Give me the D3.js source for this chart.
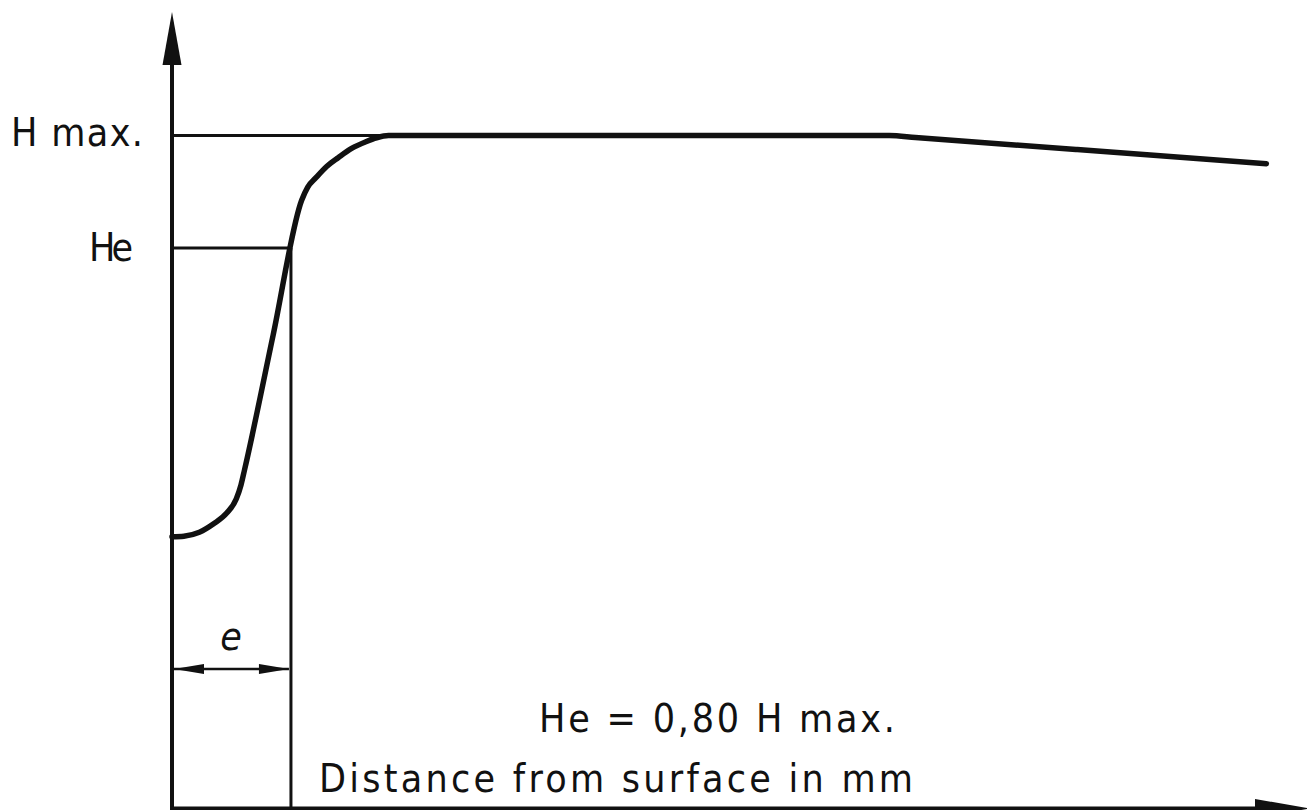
<html>
<head>
<script src="https://d3js.org/d3.v7.min.js"></script>
<style>
  body { margin: 0; background: #fff; }
  .lbl { font-family: "DejaVu Sans Condensed", "DejaVu Sans", sans-serif; font-stretch: condensed; font-size: 39px; fill: #111; }
</style>
</head>
<body>
<svg id="chart" width="1307" height="810"></svg>
<script>
// hardness profile (distance in arbitrary mm units, hardness in % of H max)
const distance = [0.00, 0.10, 0.23, 0.35, 0.46, 0.54, 0.58, 0.61, 0.85, 1.09, 1.14, 1.21, 1.30, 1.40, 1.51, 1.63, 1.72, 1.82, 6.03, 6.25, 7.61, 9.20];
const hardness = [28.7, 28.8, 29.5, 31.0, 32.9, 35.4, 37.9, 40.6, 64.5, 88.5, 90.8, 92.5, 94.5, 96.1, 97.7, 98.9, 99.6, 100, 100, 99.65, 97.5, 95.0];
const hMax = 100;
const he = 80;
const eDepth = 1.0;
const yLabels = ["H max.", "He"];
const yLabelValues = [hMax, he];
const noteText = "He = 0,80 H max.";
const axisTitle = "Distance from surface in mm";

const svg = d3.select("#chart");
const ink = "#111";

const xScale = d3.scaleLinear().domain([0, 9.55]).range([172, 1308]);
const yScale = d3.scaleLinear().domain([-19.6, 100]).range([808.5, 135.5]);

const x0 = xScale(0), y0 = yScale(-19.6);

// reference lines
svg.append("line")
    .attr("x1", x0).attr("x2", xScale(distance[17]))
    .attr("y1", yScale(hMax)).attr("y2", yScale(hMax))
    .attr("stroke", ink).attr("stroke-width", 3);
svg.append("line")
    .attr("x1", x0).attr("x2", xScale(eDepth))
    .attr("y1", yScale(he)).attr("y2", yScale(he))
    .attr("stroke", ink).attr("stroke-width", 3);
svg.append("line")
    .attr("x1", xScale(eDepth)).attr("x2", xScale(eDepth))
    .attr("y1", yScale(he)).attr("y2", y0)
    .attr("stroke", ink).attr("stroke-width", 3);

// axes
svg.append("line")
    .attr("x1", x0).attr("x2", x0)
    .attr("y1", y0 + 2).attr("y2", 60)
    .attr("stroke", ink).attr("stroke-width", 4);
svg.append("path")
    .attr("d", `M${x0},12 L${x0 - 9.5},65 L${x0 + 9.5},65 Z`)
    .attr("fill", ink);
svg.append("line")
    .attr("x1", x0 - 2).attr("x2", 1260)
    .attr("y1", y0).attr("y2", y0)
    .attr("stroke", ink).attr("stroke-width", 4);
svg.append("path")
    .attr("d", `M1310,${y0} L1255,${y0 - 9.5} L1255,${y0 + 9.5} Z`)
    .attr("fill", ink);

// hardness curve
const pts = distance.map((d, i) => [d, hardness[i]]);
const line = d3.line()
    .x(d => xScale(d[0]))
    .y(d => yScale(d[1]))
    .curve(d3.curveMonotoneX);
svg.append("path")
    .datum(pts)
    .attr("d", line)
    .attr("fill", "none")
    .attr("stroke", ink)
    .attr("stroke-width", 5.5)
    .attr("stroke-linejoin", "round")
    .attr("stroke-linecap", "round");

// e dimension arrow
const ya = 669;
svg.append("line")
    .attr("x1", x0 + 2).attr("x2", xScale(eDepth) - 2)
    .attr("y1", ya).attr("y2", ya)
    .attr("stroke", ink).attr("stroke-width", 2.5);
svg.append("path")
    .attr("d", `M${x0 + 2},${ya} L${x0 + 32},${ya - 5} L${x0 + 32},${ya + 5} Z`)
    .attr("fill", ink);
svg.append("path")
    .attr("d", `M${xScale(eDepth) - 2},${ya} L${xScale(eDepth) - 32},${ya - 5} L${xScale(eDepth) - 32},${ya + 5} Z`)
    .attr("fill", ink);
svg.append("text").attr("class", "lbl")
    .attr("x", 231).attr("y", 650)
    .attr("text-anchor", "middle")
    .style("font-style", "italic")
    .text("e");

// y labels
const labelLen = [132, 44];
const labelX = [11, 89];
const labelBase = [146, 261];
svg.selectAll("text.ylab").data(yLabels)
    .join("text")
    .attr("class", "lbl ylab")
    .attr("x", (d, i) => labelX[i])
    .attr("y", (d, i) => labelBase[i])
    .attr("textLength", (d, i) => labelLen[i])
    .attr("lengthAdjust", "spacing")
    .text(d => d);

// notes
svg.append("text").attr("class", "lbl")
    .attr("x", 539).attr("y", 732)
    .attr("textLength", 356).attr("lengthAdjust", "spacing")
    .text(noteText);
svg.append("text").attr("class", "lbl")
    .attr("x", 319).attr("y", 792)
    .attr("textLength", 594).attr("lengthAdjust", "spacing")
    .text(axisTitle);
</script>
</body>
</html>
